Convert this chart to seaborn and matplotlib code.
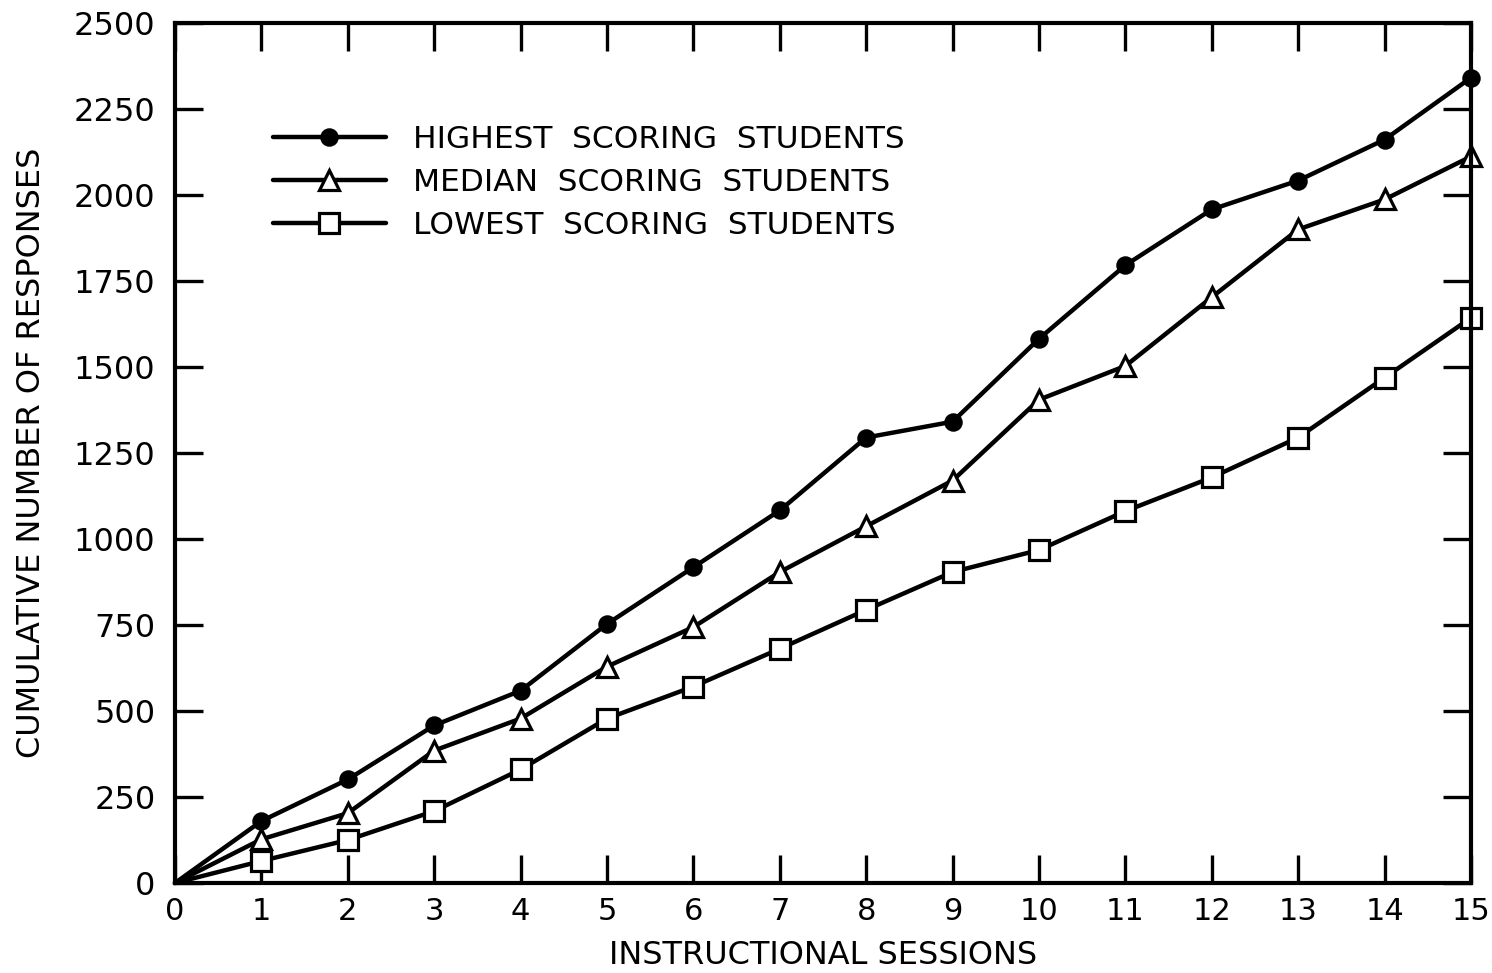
import numpy as np
import pandas as pd
import matplotlib
matplotlib.use('Agg')
import matplotlib.pyplot as plt
import seaborn as sns

sessions = list(range(0, 16))
highest = [0, 180, 301, 458, 559, 753, 918, 1083, 1295, 1341, 1582, 1796, 1958, 2042, 2161, 2341]
median = [0, 127, 203, 385, 478, 629, 744, 904, 1037, 1170, 1405, 1503, 1703, 1900, 1987, 2112]
lowest = [0, 64, 125, 209, 330, 478, 571, 681, 794, 904, 968, 1081, 1179, 1295, 1469, 1643]

labels = ['HIGHEST  SCORING  STUDENTS', 'MEDIAN  SCORING  STUDENTS', 'LOWEST  SCORING  STUDENTS']

df = pd.DataFrame({'session': sessions * 3,
                   'responses': highest + median + lowest,
                   'group': [labels[0]] * 16 + [labels[1]] * 16 + [labels[2]] * 16})

sns.set_style('ticks')
plt.rcParams['font.family'] = ['DejaVu Sans']
plt.rcParams.update({'text.color': 'black', 'axes.labelcolor': 'black',
                     'axes.edgecolor': 'black', 'xtick.color': 'black',
                     'ytick.color': 'black'})

fig = plt.figure(figsize=(14.92, 9.73), dpi=100)
# axes box: left spine ~175px, right ~1471px, top ~23px, bottom ~883px
ax = fig.add_axes([175 / 1492, 1 - 883 / 973, 1296 / 1492, 860 / 973])

styles = {
    labels[0]: dict(marker='o', markersize=11, markerfacecolor='black'),
    labels[1]: dict(marker='^', markersize=15, markerfacecolor='white'),
    labels[2]: dict(marker='s', markersize=15, markerfacecolor='white'),
}

for g in labels:
    sub = df[df['group'] == g]
    sns.lineplot(data=sub, x='session', y='responses', ax=ax, color='black',
                 linewidth=3.2, markeredgecolor='black', markeredgewidth=2.3,
                 markevery=list(range(1, 16)), clip_on=False, label=g, **styles[g])

ax.set_xlim(0, 15)
ax.set_ylim(0, 2500)
ax.set_xticks(range(0, 16))
ax.set_yticks(range(0, 2501, 250))
ax.tick_params(direction='in', length=20, width=2.4, top=True, right=True,
               labelsize=23, pad=10)
ax.tick_params(axis='x', labelsize=22)
ax.tick_params(axis='y', pad=14)
for s in ax.spines.values():
    s.set_linewidth(3.0)

ax.set_xlabel('INSTRUCTIONAL SESSIONS', fontsize=23, labelpad=10)
ax.set_ylabel('CUMULATIVE NUMBER OF RESPONSES', fontsize=23, labelpad=19)

leg = ax.legend(loc='upper left', bbox_to_anchor=(273 / 1492, 1 - 125 / 973),
                bbox_transform=fig.transFigure, frameon=False, fontsize=22.5,
                handlelength=3.6, handletextpad=0.88, labelspacing=0.45,
                borderpad=0, borderaxespad=0)

fig.savefig('out.png', dpi=100)
